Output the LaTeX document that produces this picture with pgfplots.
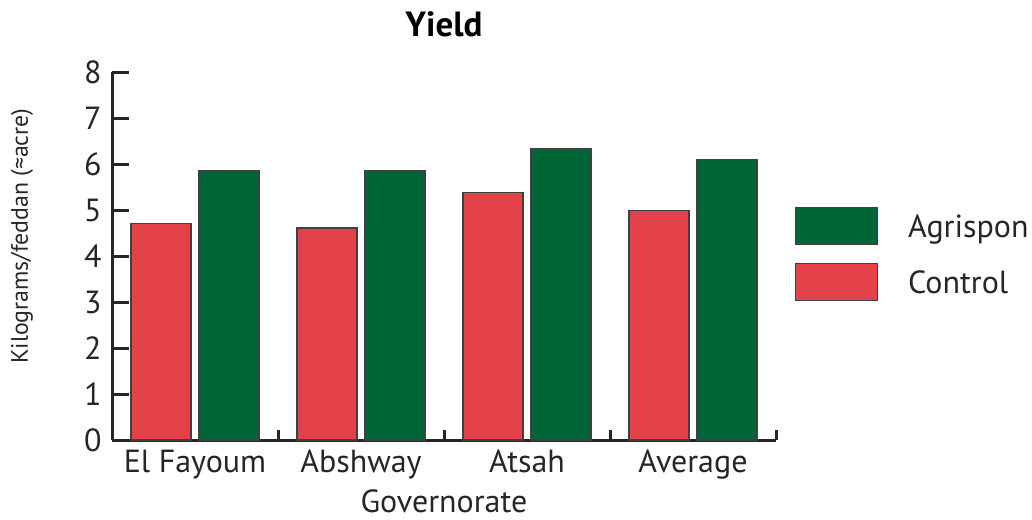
\documentclass[border=0pt]{standalone}
\usepackage{pgfplots}
\pgfplotsset{compat=1.18}
\usepackage{fontspec}
\setmainfont{PT Sans}

\definecolor{ctrlred}{RGB}{228,66,74}
\definecolor{agrigreen}{RGB}{0,102,56}

\begin{document}
\begin{tikzpicture}
\begin{axis}[
    name=ax,
    scale only axis,
    width=332pt, height=184pt,
    ybar=4pt, bar width=30pt,
    xmin=-0.5, xmax=3.5,
    ymin=0, ymax=8,
    xtick={0,1,2,3},
    xticklabels={El Fayoum, Abshway, Atsah, Average},
    ytick={0,1,...,8},
    axis lines=left,
    axis line style={-, line width=1.5pt, black!85},
    tick align=inside,
    major tick length=8.5pt,
    ytick style={line width=1.5pt, black!85},
    xtick style={draw=none},
    extra x ticks={0.5,1.5,2.5,3.5},
    extra x tick labels={},
    extra x tick style={major tick length=5pt, xtick style={draw=black!85, line width=1.5pt}},
    /pgf/number format/assume math mode=true,
    tick label style={font=\fontsize{16}{19}\selectfont, black!85},
    xticklabel style={anchor=base, yshift=-16pt},
    yticklabel style={inner sep=0pt, xshift=-5pt},
    title={\textbf{Yield}},
    title style={font=\fontsize{17.5}{20}\selectfont, at={(axis description cs:0.5,1)}, anchor=base, yshift=12pt},
    xlabel={Governorate},
    xlabel style={font=\fontsize{16}{19}\selectfont, black!85, at={(axis description cs:0.5,0)}, anchor=base, yshift=-36pt},
    ylabel={Kilograms/feddan (≈acre)},
    every axis y label/.style={at={(axis description cs:-0.1355,0.554)}, rotate=90, anchor=center, font=\fontsize{11.9}{14}\selectfont, black!85},
    legend image code/.code={\draw[#1] (0pt,-9.25pt) rectangle (41pt,9.25pt);},
    reverse legend,
    legend style={draw=none, fill=none, at={(1.0286,0.633)}, anchor=north west,
        font=\fontsize{16}{19}\selectfont, text=black!85,
        row sep=9pt, inner sep=0pt, outer sep=0pt,
        nodes={inner sep=0pt, text depth=0pt}},
    legend cell align=left,
]
\addplot[fill=ctrlred, draw=black!75, line width=0.6pt]
    coordinates {(0,4.71) (1,4.61) (2,5.38) (3,4.99)};
\addlegendentry{\hspace{15pt}Control}
\addplot[fill=agrigreen, draw=black!75, line width=0.6pt]
    coordinates {(0,5.85) (1,5.85) (2,6.34) (3,6.09)};
\addlegendentry{\hspace{15pt}Agrispon}
\end{axis}
\pgfresetboundingbox
\path ([xshift=-56pt,yshift=-39.5pt]ax.south west) rectangle ([xshift=128pt,yshift=36pt]ax.north east);
\end{tikzpicture}
\end{document}
